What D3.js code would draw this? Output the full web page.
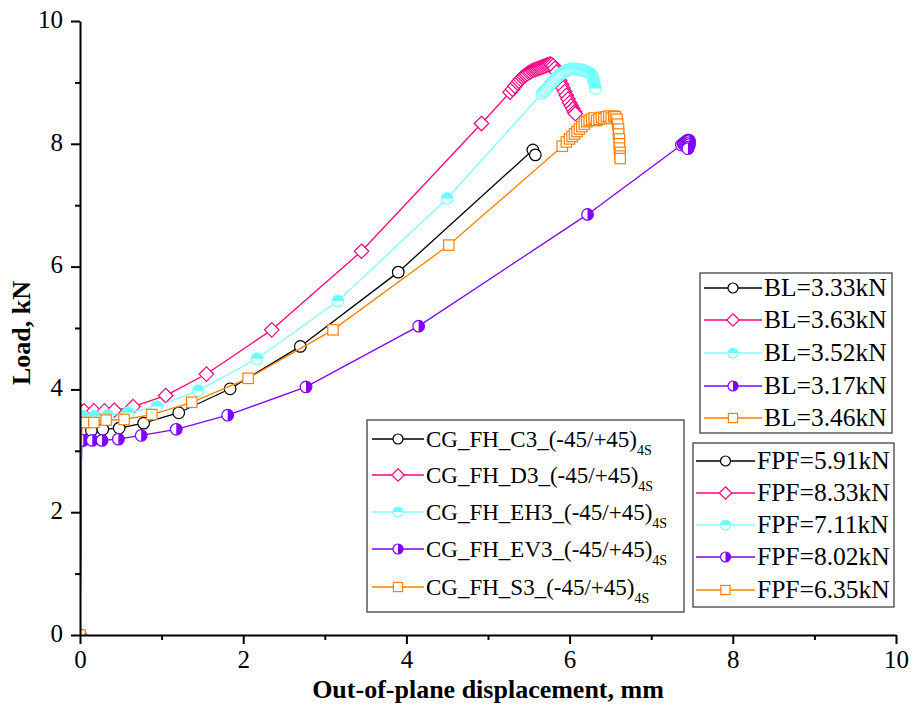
<!DOCTYPE html>
<html>
<head>
<meta charset="utf-8">
<script src="https://cdn.jsdelivr.net/npm/d3@7"></script>
<style>
  body { margin: 0; background: #fff; }
  svg { display: block; }
  svg text { font-family: "Liberation Serif", "Times New Roman", serif; fill: #000; }
</style>
</head>
<body>
<svg id="chart" width="913" height="713"></svg>
<script>
// Values (displacement in mm, load in kN)
const c3X = [0, 0.02, 0.14, 0.28, 0.48, 0.78, 1.21, 1.84, 2.70, 3.90, 5.55, 5.58];
const c3Y = [0, 3.33, 3.33, 3.35, 3.37, 3.45, 3.62, 4.01, 4.70, 5.91, 7.90, 7.82];

const d3X = [0, 0.02, 0.05, 0.17, 0.30, 0.42, 0.65, 1.05, 1.55, 2.35, 3.45, 4.92, 5.27, 5.30, 5.33, 5.36, 5.38, 5.40,
  5.42, 5.44, 5.46, 5.48, 5.50, 5.52, 5.54, 5.56, 5.58, 5.60, 5.62, 5.64, 5.66, 5.68, 5.70, 5.72, 5.74, 5.76, 5.78,
  5.80, 5.82, 5.84, 5.86, 5.88, 5.90, 5.92, 5.94, 5.96, 5.98, 6.00, 6.02, 6.04, 6.06, 6.07];
const d3Y = [0, 3.63, 3.65, 3.65, 3.65, 3.66, 3.72, 3.90, 4.25, 4.97, 6.25, 8.33, 8.84, 8.89, 8.94, 8.99, 9.02, 9.05,
  9.08, 9.10, 9.12, 9.14, 9.16, 9.17, 9.19, 9.20, 9.21, 9.22, 9.23, 9.24, 9.25, 9.26, 9.27, 9.28, 9.29, 9.30, 9.29,
  9.27, 9.23, 9.17, 9.10, 9.03, 8.97, 8.91, 8.85, 8.79, 8.73, 8.67, 8.62, 8.57, 8.52, 8.49];

const eh3X = [0, 0.02, 0.04, 0.18, 0.34, 0.59, 0.94, 1.45, 2.17, 3.16, 4.50, 5.66, 5.68, 5.70, 5.72, 5.74, 5.76, 5.78,
  5.80, 5.82, 5.84, 5.86, 5.88, 5.90, 5.92, 5.94, 5.96, 5.98, 6.00, 6.02, 6.04, 6.06, 6.08, 6.10, 6.12, 6.14, 6.16,
  6.18, 6.20, 6.22, 6.24, 6.26, 6.28, 6.29, 6.30, 6.31, 6.32];
const eh3Y = [0, 3.52, 3.56, 3.56, 3.58, 3.62, 3.72, 3.98, 4.50, 5.44, 7.11, 8.82, 8.85, 8.87, 8.90, 8.93, 8.96, 8.99,
  9.02, 9.05, 9.08, 9.10, 9.12, 9.14, 9.16, 9.18, 9.19, 9.20, 9.21, 9.22, 9.22, 9.22, 9.22, 9.21, 9.21, 9.20, 9.20,
  9.19, 9.18, 9.17, 9.16, 9.14, 9.10, 9.05, 9.00, 8.95, 8.90];

const ev3X = [0, 0.02, 0.04, 0.15, 0.27, 0.47, 0.75, 1.18, 1.81, 2.77, 4.15, 6.22, 7.37, 7.39, 7.40, 7.41, 7.42, 7.43,
  7.44, 7.45, 7.46, 7.47, 7.47, 7.47, 7.46, 7.45];
const ev3Y = [0, 3.17, 3.17, 3.17, 3.17, 3.19, 3.25, 3.35, 3.58, 4.04, 5.03, 6.85, 7.98, 8.00, 8.01, 8.02, 8.03, 8.04,
  8.05, 8.06, 8.06, 8.05, 8.02, 7.99, 7.95, 7.92];

const s3X = [0, 0.02, 0.06, 0.17, 0.32, 0.54, 0.88, 1.37, 2.06, 3.10, 4.52, 5.91, 5.96, 6.00, 6.03, 6.06, 6.09, 6.12,
  6.15, 6.18, 6.21, 6.24, 6.27, 6.30, 6.33, 6.36, 6.39, 6.42, 6.45, 6.48, 6.51, 6.54, 6.56, 6.58, 6.59, 6.60, 6.60,
  6.61, 6.61, 6.61, 6.62, 6.62, 6.62];
const s3Y = [0, 3.46, 3.46, 3.46, 3.50, 3.51, 3.59, 3.79, 4.18, 4.97, 6.35, 7.96, 8.03, 8.08, 8.12, 8.16, 8.20, 8.24,
  8.28, 8.32, 8.36, 8.38, 8.40, 8.42, 8.38, 8.40, 8.43, 8.41, 8.44, 8.45, 8.42, 8.45, 8.44, 8.40, 8.32, 8.24, 8.16,
  8.08, 8.00, 7.93, 7.86, 7.80, 7.76];

const specimenNames = ['CG_FH_C3_(-45/+45)', 'CG_FH_D3_(-45/+45)', 'CG_FH_EH3_(-45/+45)',
  'CG_FH_EV3_(-45/+45)', 'CG_FH_S3_(-45/+45)'];
const layupSub = '4S';
const blLabels = ['BL=3.33kN', 'BL=3.63kN', 'BL=3.52kN', 'BL=3.17kN', 'BL=3.46kN'];
const fpfLabels = ['FPF=5.91kN', 'FPF=8.33kN', 'FPF=7.11kN', 'FPF=8.02kN', 'FPF=6.35kN'];

const xTicks = [0, 2, 4, 6, 8, 10];
const yTicks = [0, 2, 4, 6, 8, 10];
const minorTicks = [1, 3, 5, 7, 9];

const series = [
  { xs: c3X, ys: c3Y, color: '#000000', marker: 'circle' },
  { xs: d3X, ys: d3Y, color: '#ff0080', marker: 'diamond' },
  { xs: eh3X, ys: eh3Y, color: '#80ffff', fill: '#66ffff', marker: 'halfTop' },
  { xs: ev3X, ys: ev3Y, color: '#8000ff', marker: 'halfRight' },
  { xs: s3X, ys: s3Y, color: '#ff8000', marker: 'square' }
];

const svg = d3.select('#chart');
const plot = { left: 80, right: 896, top: 21, bottom: 635 };

const x = d3.scaleLinear().domain([0, 10]).range([plot.left, plot.right]);
const y = d3.scaleLinear().domain([0, 10]).range([plot.bottom, plot.top]);

// draw one marker of a given type centred at (0,0) inside group g
function drawMarker(g, type, color, fill, r) {
  if (type === 'circle') {
    g.append('circle').attr('r', r).attr('fill', '#fff').attr('stroke', color).attr('stroke-width', 1.2);
  } else if (type === 'square') {
    g.append('rect').attr('x', -r).attr('y', -r).attr('width', 2 * r).attr('height', 2 * r)
      .attr('fill', '#fff').attr('stroke', color).attr('stroke-width', 1.2);
  } else if (type === 'diamond') {
    const d = r * 1.25;
    g.append('path').attr('d', `M0,${-d}L${d},0L0,${d}L${-d},0Z`)
      .attr('fill', '#fff').attr('stroke', color).attr('stroke-width', 1.2);
  } else {
    g.append('circle').attr('r', r).attr('fill', '#fff');
    const half = type === 'halfTop'
      ? `M${-r},0A${r},${r} 0 0 1 ${r},0Z`
      : `M0,${-r}A${r},${r} 0 0 1 0,${r}Z`;
    g.append('path').attr('d', half).attr('fill', fill || color);
    g.append('circle').attr('r', r).attr('fill', 'none').attr('stroke', color).attr('stroke-width', 1.2);
  }
}

// clip so markers sitting on the axes are cut like the original
svg.append('defs').append('clipPath').attr('id', 'plotClip')
  .append('rect')
  .attr('x', plot.left).attr('y', plot.top - 10)
  .attr('width', plot.right - plot.left + 10).attr('height', plot.bottom - plot.top + 10);

const dataG = svg.append('g').attr('clip-path', 'url(#plotClip)');

const line = d3.line().x(d => x(d[0])).y(d => y(d[1]));

series.forEach(s => {
  const pts = s.xs.map((v, i) => [v, s.ys[i]]);
  dataG.append('path')
    .datum(pts)
    .attr('d', line)
    .attr('fill', 'none')
    .attr('stroke', s.color)
    .attr('stroke-width', 1.3);
  pts.forEach(p => {
    const m = dataG.append('g').attr('transform', `translate(${x(p[0])},${y(p[1])})`);
    drawMarker(m, s.marker, s.color, s.fill, s.marker === 'square' ? 5.2 : 5.8);
  });
});

// axes
const xAxis = svg.append('g')
  .attr('transform', `translate(0,${plot.bottom})`)
  .call(d3.axisBottom(x).tickValues(xTicks).tickSize(9).tickSizeOuter(0).tickPadding(6).tickFormat(d3.format('d')));
svg.append('g')
  .attr('transform', `translate(0,${plot.bottom})`)
  .call(d3.axisBottom(x).tickValues(minorTicks).tickSize(5).tickFormat(''))
  .call(g => g.select('.domain').remove());

const yAxis = svg.append('g')
  .attr('transform', `translate(${plot.left},0)`)
  .call(d3.axisLeft(y).tickValues(yTicks).tickSize(9).tickSizeOuter(0).tickPadding(8).tickFormat(d3.format('d')));
svg.append('g')
  .attr('transform', `translate(${plot.left},0)`)
  .call(d3.axisLeft(y).tickValues(minorTicks).tickSize(5).tickFormat(''))
  .call(g => g.select('.domain').remove());

svg.selectAll('.domain').attr('stroke', '#000').attr('stroke-width', 2);
svg.selectAll('.tick line').attr('stroke', '#000').attr('stroke-width', 2);
svg.selectAll('.tick text').attr('font-size', 25);
xAxis.selectAll('.tick text').attr('dy', '0.72em');
yAxis.selectAll('.tick text').attr('dy', '0.25em');

// axis titles
svg.append('text')
  .attr('x', 488).attr('y', 698)
  .attr('text-anchor', 'middle')
  .attr('font-size', 26).attr('font-weight', 'bold')
  .text('Out-of-plane displacement, mm');

svg.append('text')
  .attr('transform', 'translate(30,333) rotate(-90)')
  .attr('text-anchor', 'middle')
  .attr('font-size', 26).attr('font-weight', 'bold')
  .text('Load, kN');

// legends
function legendBox(bx, by, bw, bh) {
  svg.append('rect').attr('x', bx).attr('y', by).attr('width', bw).attr('height', bh)
    .attr('fill', '#fff').attr('stroke', '#333').attr('stroke-width', 1.2);
}

function legendRow(cy, x0, x1, s, label, fontSize, sub) {
  svg.append('line').attr('x1', x0).attr('x2', x1).attr('y1', cy).attr('y2', cy)
    .attr('stroke', s.color).attr('stroke-width', 1.3);
  const m = svg.append('g').attr('transform', `translate(${(x0 + x1) / 2},${cy})`);
  drawMarker(m, s.marker, s.color, s.fill, s.marker === 'square' ? 4.6 : 5);
  const t = svg.append('text').attr('x', x1 + 2).attr('y', cy + fontSize * 0.33)
    .attr('font-size', fontSize).text(label);
  if (sub) {
    t.append('tspan').attr('dy', 8).attr('font-size', 14).text(sub);
  }
}

legendBox(367, 420, 317, 192);
const nameRows = [439, 475, 512, 549, 587];
series.forEach((s, i) => legendRow(nameRows[i], 372, 424, s, specimenNames[i], 23, layupSub));

legendBox(700, 273, 192, 160);
const blRows = [288, 320, 353, 386, 418];
series.forEach((s, i) => legendRow(blRows[i], 704, 762, s, blLabels[i], 25.5));

legendBox(693, 443, 201, 164);
const fpfRows = [461, 493, 525, 557, 590];
series.forEach((s, i) => legendRow(fpfRows[i], 696, 755, s, fpfLabels[i], 25.5));
</script>
</body>
</html>
